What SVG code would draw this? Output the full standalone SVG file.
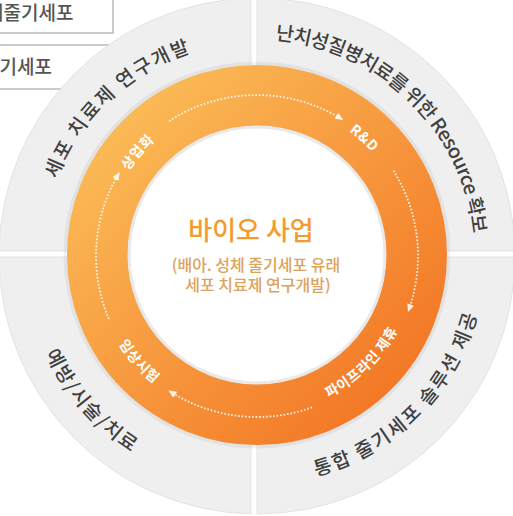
<svg xmlns="http://www.w3.org/2000/svg" width="513" height="516" viewBox="0 0 513 516">
<style>
.box{fill:#fff;stroke:#bdbdbd;stroke-width:1.6}
.boxt{font-family:"Noto Sans CJK KR","Noto Sans",sans-serif;font-size:19px;font-weight:500;fill:#555}
.quad{fill:#efefef;stroke:#e3e3e3;stroke-width:1}
.gt{font-family:"Noto Sans CJK KR","Noto Sans",sans-serif;font-size:19.5px;font-weight:500;fill:#404040}
.rl{font-family:"Noto Sans CJK KR","Noto Sans",sans-serif;font-size:14px;font-weight:700;fill:#fff;letter-spacing:0.6px}
.dot{fill:none;stroke:#fff;stroke-width:1.8;stroke-dasharray:1.6 1.9;opacity:.9}
</style>
<defs>
<linearGradient id="rg" gradientUnits="userSpaceOnUse" x1="87" y1="85" x2="427" y2="425">
<stop offset="0" stop-color="#fcc25c"/>
<stop offset="1" stop-color="#f27020"/>
</linearGradient>
<marker id="ah" viewBox="0 0 8 8" refX="7" refY="4" markerWidth="8" markerHeight="8" markerUnits="userSpaceOnUse" orient="auto">
<path d="M0,0.5 L8,4 L0,7.5 z" fill="#fff"/>
</marker>
<path id="p1" d="M44.3,232.1 A214,214 0 0 1 243.6,42.4"/>
<path id="p2" d="M236.0,40.0 A217,217 0 0 1 473.3,272.8"/>
<path id="p3" d="M24.0,260.1 A233,233 0 0 0 220.6,486.1"/>
<path id="p4" d="M257,484 A228,228 0 0 0 485,256"/>
<path id="l1" d="M105.8,226.6 A154,154 0 0 1 206.9,110.4"/>
<path id="l2" d="M290.0,104.6 A155,155 0 0 1 404.7,208.9"/>
<path id="l3" d="M269.5,414.5 A159,159 0 0 0 415.3,271.2"/>
<path id="l4" d="M96.5,289.5 A164,164 0 0 0 205.8,411.8"/>
</defs>
<rect width="513" height="516" fill="#fff"/>
<g id="box-top1">
<rect class="box" x="-5" y="-10" width="118" height="43"/>
<text class="boxt" x="-14" y="20">체줄기세포</text>
</g>
<g id="box-top2">
<rect class="box" x="-5" y="45" width="200" height="44"/>
<text class="boxt" x="-18" y="73.5">줄기세포</text>
</g>
<g id="quadrant-tl">
<path class="quad" d="M251,251 L-0.95,251 A258,258 0 0 1 251,-1.9 Z"/>
<text class="gt"><textPath href="#p1" startOffset="50%" text-anchor="middle" textLength="190">세포 치료제 연구개발</textPath></text>
</g>
<g id="quadrant-tr">
<path class="quad" d="M257,251 L257,-2 A258,258 0 0 1 514.95,251 Z"/>
<text class="gt"><textPath href="#p2" startOffset="50%" text-anchor="middle" textLength="300">난치성질병치료를 위한 Resource 확보</textPath></text>
</g>
<g id="quadrant-br">
<path class="quad" d="M257,257 L515,257 A258,258 0 0 1 257,514 Z"/>
<text class="gt"><textPath href="#p4" startOffset="50%" text-anchor="middle" textLength="238">통합 줄기세포 솔루션 제공</textPath></text>
</g>
<g id="quadrant-bl">
<path class="quad" d="M251,257 L251,513.9 A258,258 0 0 1 -0.99,257 Z"/>
<text class="gt"><textPath href="#p3" startOffset="50%" text-anchor="middle" textLength="133">예방/시술/치료</textPath></text>
</g>
<g id="ring">
<circle cx="257" cy="255" r="191.5" fill="none" stroke="#000" stroke-opacity="0.05" stroke-width="4"/>
<circle cx="257" cy="255" r="159.5" fill="none" stroke="url(#rg)" stroke-width="61"/>
<circle cx="257" cy="255" r="128" fill="#fff" stroke="#e9e9e9" stroke-width="3"/>
</g>
<g id="connectors">
<path class="dot" d="M169.3,121.0 A161,161 0 0 1 342.3,119.5" marker-end="url(#ah)"/>
<path class="dot" d="M393.5,170.7 A161,161 0 0 1 408.3,311.1" marker-end="url(#ah)"/>
<path class="dot" d="M312.1,407.3 A161,161 0 0 1 169.3,391.0" marker-end="url(#ah)"/>
<path class="dot" d="M108.8,318.9 A161,161 0 0 1 119.0,173.1" marker-end="url(#ah)"/>
</g>
<g id="step-commercial"><text class="rl"><textPath href="#l1" startOffset="50%" text-anchor="middle">상업화</textPath></text></g>
<g id="step-rnd"><text class="rl"><textPath href="#l2" startOffset="50%" text-anchor="middle">R&amp;D</textPath></text></g>
<g id="step-pipeline"><text class="rl"><textPath href="#l3" startOffset="50%" text-anchor="middle">파이프라인 제휴</textPath></text></g>
<g id="step-clinical"><text class="rl"><textPath href="#l4" startOffset="50%" text-anchor="middle">임상시험</textPath></text></g>
<g id="center">
<text x="251" y="240" text-anchor="middle" font-family="Noto Sans CJK KR, Noto Sans, sans-serif" font-size="26" font-weight="500" fill="#f39c2e">바이오 사업</text>
<text x="256" y="271" text-anchor="middle" font-family="Noto Sans CJK KR, Noto Sans, sans-serif" font-size="16" font-weight="500" fill="#dca35a">(배아. 성체 줄기세포 유래</text>
<text x="258" y="291" text-anchor="middle" font-family="Noto Sans CJK KR, Noto Sans, sans-serif" font-size="16" font-weight="500" fill="#dca35a">세포 치료제 연구개발)</text>
</g>
</svg>
